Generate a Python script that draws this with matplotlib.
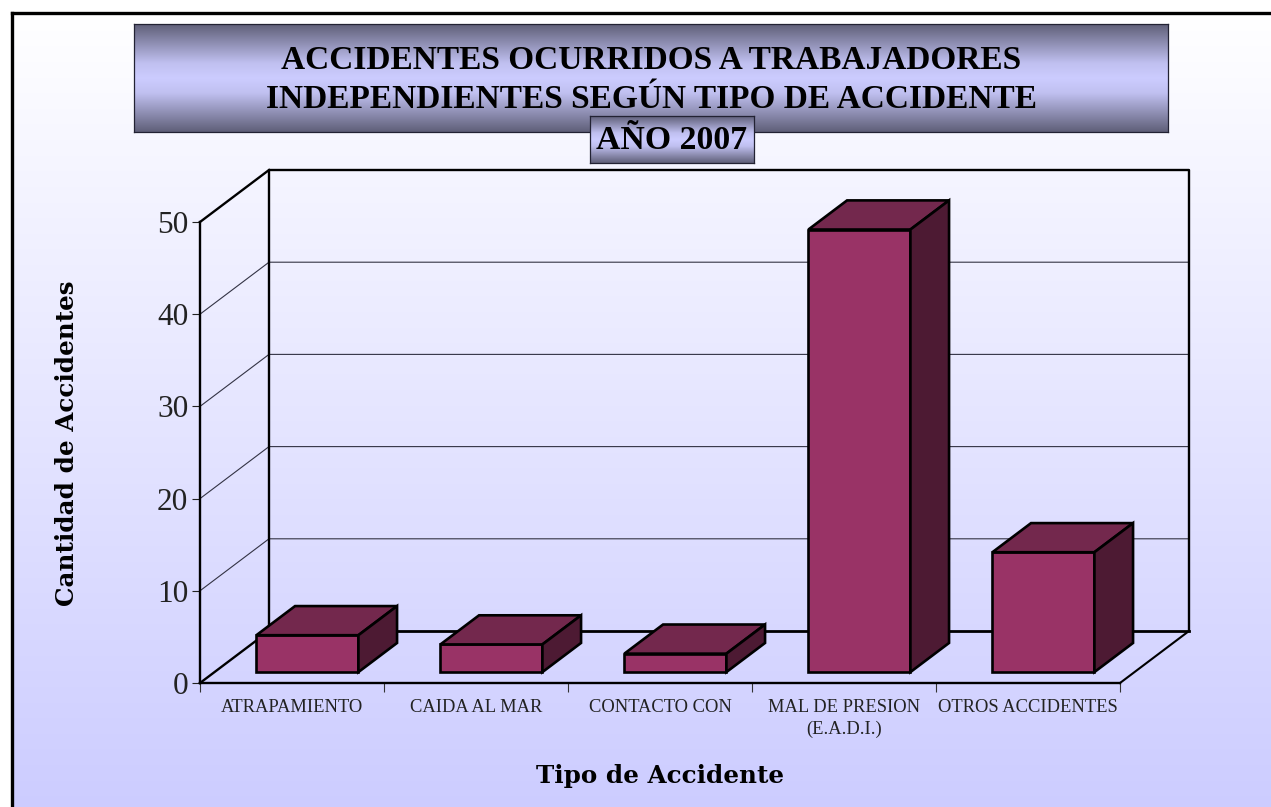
import numpy as np
import matplotlib
matplotlib.use("Agg")
import matplotlib.pyplot as plt
from matplotlib.colors import LinearSegmentedColormap

categories = ["ATRAPAMIENTO", "CAIDA AL MAR", "CONTACTO CON", "MAL DE PRESION\n(E.A.D.I.)", "OTROS ACCIDENTES"]
values = [4, 3, 2, 48, 13]
y_ticks = [0, 10, 20, 30, 40, 50]

W, H = 1271, 807

# depth of the fake 3d box, in category / value units
DEPTH_X = 69 / 184
DEPTH_Y = 52 / 9.22
BAR_WIDTH = 102 / 184
BAR_NEAR, BAR_FAR = 0.21, 0.77
BAR_CENTER = 0.505

FRONT = "#993366"
TOP = "#73284D"
SIDE = "#4D1A33"

plt.rcParams['font.family'] = ['Liberation Serif', 'DejaVu Serif']

fig = plt.figure(figsize=(W / 100, H / 100), dpi=100, facecolor="white")


def px_axes(left, top, right, bottom, **kw):
    return fig.add_axes([left / W, 1 - bottom / H, (right - left) / W, (bottom - top) / H], **kw)


def gradient(ax, stops):
    cmap = LinearSegmentedColormap.from_list("g", stops)
    ax.imshow(np.linspace(0, 1, 256).reshape(-1, 1), cmap=cmap, aspect="auto", extent=[0, 1, 0, 1], zorder=0)
    ax.set_xticks([])
    ax.set_yticks([])


# page background, black frame only on left and top
bg = px_axes(11.5, 12.5, W + 5, H + 5)
gradient(bg, ["#FFFFFF", "#CCCCFF"])
for name, s in bg.spines.items():
    s.set_visible(name in ("left", "top"))
    s.set_linewidth(2.4)
    s.set_color("black")

# main chart axes: data coordinates are the front plane
ax = px_axes(200, 222, 1120, 683)
ax.patch.set_alpha(0)
ax.set_xlim(0, len(categories))
ax.set_ylim(0, 50)
for s in ax.spines.values():
    s.set_visible(False)

n = len(categories)
ln = dict(color="black", clip_on=False, solid_capstyle="projecting")

# back wall and floor
ax.plot([DEPTH_X, DEPTH_X, n + DEPTH_X, n + DEPTH_X], [DEPTH_Y, 50 + DEPTH_Y, 50 + DEPTH_Y, DEPTH_Y], lw=1.7, zorder=2, **ln)
ax.plot([DEPTH_X, n + DEPTH_X], [DEPTH_Y, DEPTH_Y], lw=2.0, zorder=2, **ln)
ax.plot([0, DEPTH_X], [50, 50 + DEPTH_Y], lw=1.7, zorder=2, **ln)
ax.plot([0, DEPTH_X], [0, DEPTH_Y], lw=1.7, zorder=2, **ln)
ax.plot([n, n + DEPTH_X], [0, DEPTH_Y], lw=1.5, zorder=2, **ln)
ax.plot([0, 0], [0, 50], lw=1.7, zorder=2, **ln)
ax.plot([0, n], [0, 0], lw=1.7, zorder=2, **ln)

# gridlines on wall and side
for t in y_ticks[1:-1]:
    ax.plot([0, DEPTH_X, n + DEPTH_X], [t, t + DEPTH_Y, t + DEPTH_Y], color="#333344", lw=0.8, clip_on=False, zorder=1)

# bars as three faces
for i, v in enumerate(values):
    x0 = i + BAR_CENTER - BAR_WIDTH / 2 + BAR_NEAR * DEPTH_X
    x1 = x0 + BAR_WIDTH
    y0 = BAR_NEAR * DEPTH_Y
    dx = (BAR_FAR - BAR_NEAR) * DEPTH_X
    dy = (BAR_FAR - BAR_NEAR) * DEPTH_Y
    faces = [
        ([x0, x1, x1, x0], [y0, y0, y0 + v, y0 + v], FRONT),
        ([x0, x1, x1 + dx, x0 + dx], [y0 + v, y0 + v, y0 + v + dy, y0 + v + dy], TOP),
        ([x1, x1 + dx, x1 + dx, x1], [y0, y0 + dy, y0 + v + dy, y0 + v], SIDE),
    ]
    for fx, fy, col in faces:
        ax.fill(fx, fy, facecolor=col, edgecolor="black", lw=1.9, joinstyle="miter", clip_on=False, zorder=3)

ax.set_xticks(range(n + 1))
ax.set_xticklabels([])
ax.set_yticks(y_ticks)
ax.set_yticklabels([str(t) for t in y_ticks], fontsize=22.5, color="#222222")
ax.tick_params(axis="y", length=6, width=0.8, pad=2.5, color="#222222")
ax.tick_params(axis="x", length=6.7, width=0.8, color="#333333")

for i, c in enumerate(categories):
    ax.annotate(c, (i + 0.5, 0), xytext=(0, -16), textcoords="offset pixels", ha="center", va="top",
                fontsize=13.3, color="#222222", linespacing=1.34, annotation_clip=False)

fig.text(660 / W, 1 - 776 / H, "Tipo de Accidente", family="DejaVu Serif", weight="bold", fontsize=17.7,
         ha="center", va="center")
fig.text(67 / W, 1 - 443 / H, "Cantidad de Accidentes", family="DejaVu Serif", weight="bold", fontsize=17.7,
         rotation=90, ha="center", va="center")

# title boxes
edge_stops = [(0, "#5F5F78"), (0.36, "#C0C0F0"), (0.5, "#CCCCFF"), (0.64, "#C0C0F0"), (1, "#5F5F78")]
tb = px_axes(134, 24, 1168, 132, zorder=5)
gradient(tb, edge_stops)
for s in tb.spines.values():
    s.set_linewidth(0.9)
    s.set_color("#222233")
tb.text(0.5, 0.485, "ACCIDENTES OCURRIDOS A TRABAJADORES\nINDEPENDIENTES SEGÚN TIPO DE ACCIDENTE",
        transform=tb.transAxes, ha="center", va="center", fontsize=24, weight="bold", linespacing=1.34, zorder=3)

yb = px_axes(590, 116, 754, 163, zorder=6)
gradient(yb, edge_stops)
for s in yb.spines.values():
    s.set_linewidth(0.9)
    s.set_color("#222233")
yb.text(0.5, 0.48, "AÑO 2007", transform=yb.transAxes, ha="center", va="center", fontsize=24.3, weight="bold", zorder=3)

fig.savefig("out.png", dpi=100)
